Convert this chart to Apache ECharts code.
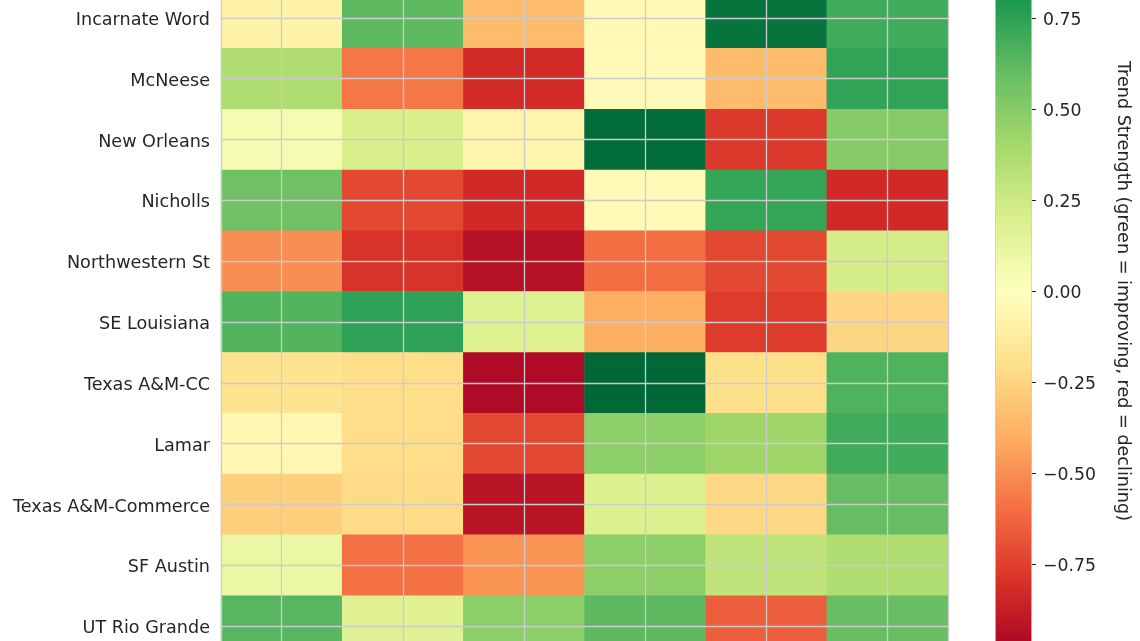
<!DOCTYPE html>
<html>
<head>
<meta charset="utf-8">
<script src="https://cdn.jsdelivr.net/npm/echarts@6/dist/echarts.min.js"></script>
<style>
  html, body { margin: 0; padding: 0; background: #ffffff; overflow: hidden; width: 1140px; height: 641px; }
  #wrap { position: relative; width: 1140px; height: 641px; overflow: hidden; }
  #chart { position: absolute; left: 0; top: -100px; width: 1140px; height: 841px; }
</style>
</head>
<body>
<div id="wrap"><div id="chart"></div></div>
<script>
// ---- data ----
const teams = ['Incarnate Word', 'McNeese', 'New Orleans', 'Nicholls', 'Northwestern St',
  'SE Louisiana', 'Texas A&M-CC', 'Lamar', 'Texas A&M-Commerce', 'SF Austin', 'UT Rio Grande'];
const periods = ['P1', 'P2', 'P3', 'P4', 'P5', 'P6'];

const incarnateWord    = [-0.08,  0.62, -0.35, -0.04,  0.95,  0.70];
const mcneese          = [ 0.36, -0.57, -0.82, -0.03, -0.35,  0.74];
const newOrleans       = [ 0.05,  0.20, -0.07,  0.98, -0.77,  0.50];
const nicholls         = [ 0.57, -0.72, -0.83, -0.03,  0.73, -0.83];
const northwesternSt   = [-0.50, -0.79, -0.93, -0.60, -0.72,  0.22];
const seLouisiana      = [ 0.65,  0.75,  0.18, -0.40, -0.76, -0.24];
const texasAMCC        = [-0.18, -0.21, -0.96,  1.00, -0.20,  0.66];
const lamar            = [-0.05, -0.21, -0.72,  0.48,  0.42,  0.70];
const texasAMCommerce  = [-0.27, -0.22, -0.92,  0.19, -0.23,  0.60];
const sfAustin         = [ 0.10, -0.59, -0.48,  0.48,  0.30,  0.36];
const utRioGrande      = [ 0.64,  0.17,  0.48,  0.62, -0.65,  0.59];

const rowValues = [incarnateWord, mcneese, newOrleans, nicholls, northwesternSt,
  seLouisiana, texasAMCC, lamar, texasAMCommerce, sfAustin, utRioGrande];

const colorbarTicks = [-0.75, -0.5, -0.25, 0, 0.25, 0.5, 0.75];
const colorbarMin = -1, colorbarMax = 1;
const axisTitle = 'Trend Strength (green = improving, red = declining)';

// ---- build ----
const heatData = [];
rowValues.forEach((row, r) => row.forEach((v, c) => heatData.push([c, r, v])));

const rdYlGn = ['#a50026', '#d73027', '#f46d43', '#fdae61', '#fee08b', '#ffffbf',
  '#d9ef8b', '#a6d96a', '#66bd63', '#1a9850', '#006837'];

const textColor = '#262626';
const fontFamily = 'DejaVu Sans, sans-serif';
const gridColor = '#cccccc';
const shift = 100; // chart canvas extends 100px above the visible window

const chart = echarts.init(document.getElementById('chart'), null, { renderer: 'canvas' });

const gridLineData = [];
periods.forEach(p => gridLineData.push({ xAxis: p }));
teams.forEach(t => gridLineData.push({ yAxis: t }));

chart.setOption({
  backgroundColor: '#ffffff',
  animation: false,
  textStyle: { fontFamily: fontFamily, color: textColor },
  grid: [
    { left: 221, width: 727, top: shift - 12.5, height: 669, containLabel: false },
    { left: 995, width: 36, top: shift - 73, height: 728, containLabel: false }
  ],
  xAxis: [
    { type: 'category', gridIndex: 0, data: periods, position: 'bottom',
      axisLine: { show: false }, axisTick: { show: false }, axisLabel: { show: false },
      splitLine: { show: false } },
    { type: 'category', gridIndex: 1, data: ['cb'], show: false }
  ],
  yAxis: [
    { type: 'category', gridIndex: 0, data: teams, inverse: true, position: 'left',
      axisLine: { show: true, lineStyle: { color: gridColor, width: 1.3 } },
      axisTick: { show: false },
      axisLabel: { color: textColor, fontSize: 17.6, margin: 11, fontFamily: fontFamily,
        formatter: v => '{t|' + v + '}',
        rich: { t: { fontSize: 17.6, color: textColor, fontFamily: fontFamily, padding: [5, 0, 0, 0] } } },
      splitLine: { show: false }, z: 10 },
    { type: 'category', gridIndex: 0, data: teams, inverse: true, position: 'right',
      axisLine: { show: true, lineStyle: { color: gridColor, width: 1.3 } },
      axisTick: { show: false }, axisLabel: { show: false }, splitLine: { show: false }, z: 10 },
    { type: 'value', gridIndex: 1, position: 'right', min: colorbarMin, max: colorbarMax,
      axisLine: { show: true, lineStyle: { color: gridColor, width: 1 } },
      axisTick: { show: true, length: 5, customValues: colorbarTicks,
        lineStyle: { color: textColor, width: 1 } },
      axisLabel: { show: true, customValues: colorbarTicks, margin: 12, color: textColor,
        fontSize: 17.3, fontFamily: fontFamily,
        formatter: v => '{t|' + (v < 0 ? '\u2212' : '') + Math.abs(v).toFixed(2) + '}',
        rich: { t: { fontSize: 17.3, color: textColor, fontFamily: fontFamily, padding: [5, 0, 0, 0] } } },
      splitLine: { show: false },
      name: axisTitle, nameLocation: 'middle', nameRotate: -90, nameGap: 83,
      nameTextStyle: { color: textColor, fontSize: 17.6, fontFamily: fontFamily } },
  ],
  visualMap: {
    type: 'continuous', seriesIndex: 0, min: colorbarMin, max: colorbarMax,
    orient: 'vertical', left: 995, top: shift - 73, itemWidth: 36, itemHeight: 728,
    padding: 0, calculable: false, hoverLink: false, text: null, showLabel: false,
    borderColor: gridColor, borderWidth: 1,
    inRange: { color: rdYlGn }
  },
  series: [
    { type: 'heatmap', xAxisIndex: 0, yAxisIndex: 0, data: heatData,
      itemStyle: { borderWidth: 0 }, emphasis: { disabled: true }, silent: true,
      markLine: { silent: true, symbol: ['none', 'none'], animation: false,
        label: { show: false }, z: 6,
        lineStyle: { color: gridColor, width: 1.3, type: 'solid' },
        emphasis: { disabled: true },
        data: gridLineData } }
  ]
});
</script>
</body>
</html>
